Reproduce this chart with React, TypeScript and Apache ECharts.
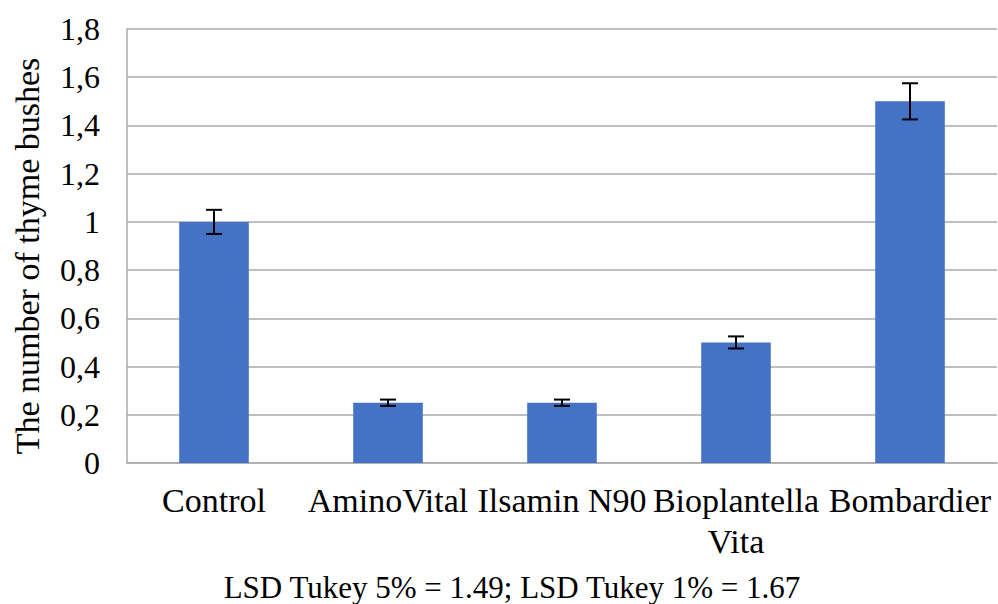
import React, { useEffect, useRef } from "react";
import * as echarts from "echarts";

const categories = ["Control", "AminoVital", "Ilsamin N90", "Bioplantella Vita", "Bombardier"];
const values = [1.0, 0.25, 0.25, 0.5, 1.5];
const errors = [0.05, 0.013, 0.013, 0.025, 0.075];
const yAxisName = "The number of thyme bushes";
const footnote = "LSD Tukey 5% = 1.49; LSD Tukey 1% = 1.67";

const FONT = "'Liberation Serif', 'Times New Roman', serif";

export default function App() {
  const ref = useRef<HTMLDivElement>(null);
  useEffect(() => {
    if (!ref.current) return;
    const chart = echarts.init(ref.current, undefined, { renderer: "svg" });
    const option: any = {
      animation: false,
      backgroundColor: "#ffffff",
      grid: { left: 127, right: 1, top: 29, bottom: 141, containLabel: false },
      xAxis: {
        type: "category",
        data: categories,
        axisLine: { show: true, lineStyle: { color: "#ababab", width: 1.5 } },
        axisTick: { show: false },
        axisLabel: {
          interval: 0,
          margin: 17,
          color: "#000",
          fontFamily: FONT,
          fontSize: 34,
          lineHeight: 41,
          formatter: (v: string) => (v === "Bioplantella Vita" ? "Bioplantella\nVita" : v),
        },
      },
      yAxis: {
        type: "value",
        min: 0,
        max: 1.8,
        interval: 0.2,
        axisLine: { show: true, lineStyle: { color: "#ababab", width: 1.5 } },
        axisTick: { show: false },
        splitLine: { show: true, lineStyle: { color: "#ababab", width: 1.5 } },
        axisLabel: {
          margin: 27,
          color: "#000",
          fontFamily: FONT,
          fontSize: 32,
          formatter: (v: number) => {
            const r = Math.round(v * 10) / 10;
            return r === 0 ? "0" : String(r).replace(".", ",");
          },
        },
      },
      series: [
        {
          type: "bar",
          data: values,
          barWidth: "40%",
          itemStyle: { color: "#4472C4" },
        },
        {
          type: "custom",
          data: values.map((v, i) => [i, v - errors[i], v + errors[i]]),
          z: 5,
          renderItem: (params: any, api: any) => {
            const i = api.value(0);
            const lo = api.coord([i, api.value(1)]);
            const hi = api.coord([i, api.value(2)]);
            const half = 8;
            const style = { stroke: "#000", lineWidth: 2 };
            return {
              type: "group",
              children: [
                { type: "line", shape: { x1: hi[0], y1: hi[1], x2: lo[0], y2: lo[1] }, style },
                { type: "line", shape: { x1: hi[0] - half, y1: hi[1], x2: hi[0] + half, y2: hi[1] }, style },
                { type: "line", shape: { x1: lo[0] - half, y1: lo[1], x2: lo[0] + half, y2: lo[1] }, style },
              ],
            };
          },
        },
      ],
      graphic: [
        {
          type: "text",
          x: 27,
          y: 256,
          rotation: Math.PI / 2,
          style: {
            text: yAxisName,
            fill: "#000",
            fontFamily: FONT,
            fontSize: 34,
            align: "center",
            verticalAlign: "middle",
          },
        },
        {
          type: "text",
          x: 512,
          y: 587,
          style: {
            text: footnote,
            fill: "#000",
            fontFamily: FONT,
            fontSize: 31,
            align: "center",
            verticalAlign: "middle",
          },
        },
      ],
    };
    chart.setOption(option);
    return () => chart.dispose();
  }, []);
  return (
    <div
      ref={ref}
      style={{ position: "absolute", left: 0, top: 0, width: 998, height: 604 }}
    />
  );
}
